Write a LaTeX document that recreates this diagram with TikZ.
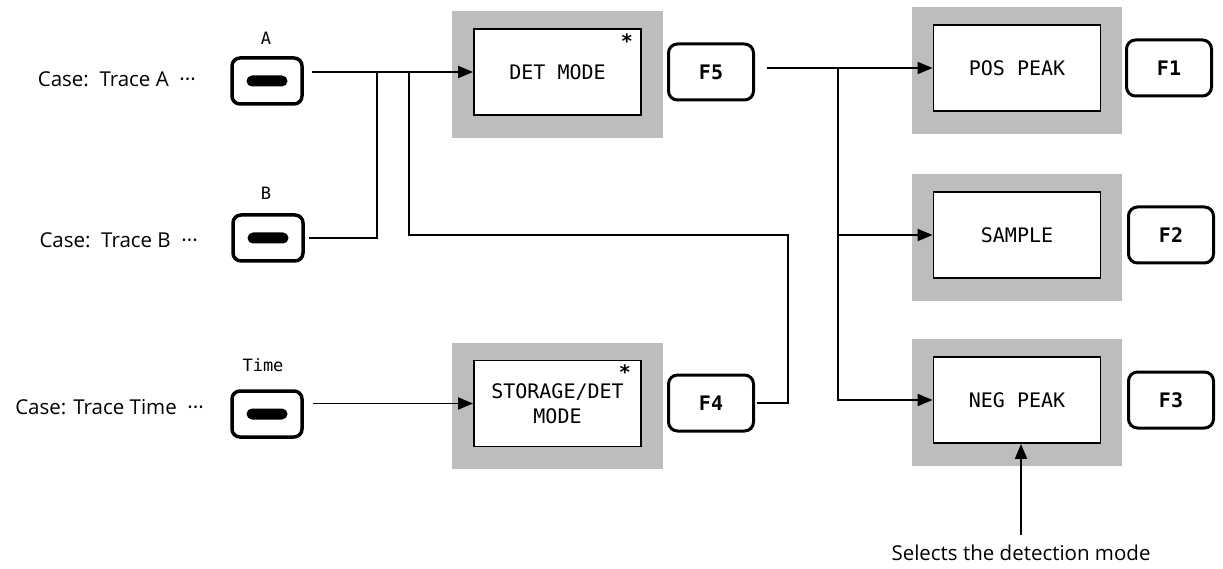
\documentclass[tikz,border=0pt]{standalone}
\usepackage{fontspec}
\setmainfont{Open Sans}
\newfontfamily\monof{DejaVu Sans Mono}
\usetikzlibrary{arrows.meta,backgrounds}
\begin{document}
\begin{tikzpicture}[x=1pt,y=-1pt,
  conn/.style={line width=1.9pt},
  arr/.style={conn,-{Triangle[length=15pt,width=12pt]}},
  modebox/.style={draw,line width=1.9pt,fill=white,minimum width=167pt,minimum height=86pt,inner sep=0pt,font=\monof\fontsize{20}{25}\selectfont,align=center},
  fkey/.style={draw,line width=3pt,rounded corners=9pt,minimum width=85pt,minimum height=56pt,inner sep=0pt,font=\monof\bfseries\fontsize{20}{24}\selectfont},
  button/.style={draw,line width=3.5pt,rounded corners=8pt,minimum width=70pt,minimum height=46pt,inner sep=0pt},
  pill/.style={fill=black,rounded corners=5.5pt,minimum width=41pt,minimum height=11pt,inner sep=0pt},
  caselabel/.style={anchor=east,font=\fontsize{20.5}{24}\selectfont,inner sep=0pt},
  keylabel/.style={font=\monof\fontsize{17}{20}\selectfont,inner sep=0pt},
  star/.style={font=\monof\bfseries\fontsize{20}{24}\selectfont,inner sep=0pt},
  shadefill/.style={fill=black!26},
]
\useasboundingbox (0,0) rectangle (1223,569);

% buttons and their labels
\node[button] (btnA) at (267,81) {};
\node[pill] (pillA) at (btnA.center) {};
\node[keylabel] (labA) at (266,38) {A};
\node[caselabel] (caseA) at (196,79) {Case:\ \ Trace A\ \ ···};

\node[button] (btnB) at (268,238) {};
\node[pill] (pillB) at (btnB.center) {};
\node[keylabel] (labB) at (266,193) {B};
\node[caselabel] (caseB) at (198,240) {Case:\ \ Trace B\ \ ···};

\node[button] (btnT) at (267,414) {};
\node[pill] (pillT) at (btnT.center) {};
\node[keylabel] (labT) at (263,365) {Time};
\node[caselabel] (caseT) at (204,407) {Case: Trace Time\ \ ···};

% mode boxes
\node[modebox] (det) at (557.5,72) {DET MODE};
\node[modebox] (st) at (557.5,403.5) {STORAGE/DET\\MODE};
\node[modebox] (pos) at (1017,68) {POS PEAK};
\node[modebox] (samp) at (1017,235) {SAMPLE};
\node[modebox] (neg) at (1017,400) {NEG PEAK};

\node[star] (astD) at ([xshift=-15pt,yshift=-13pt]det.north east) {*};
\node[star] (astS) at ([xshift=-17pt,yshift=-13pt]st.north east) {*};

\begin{scope}[on background layer]
\foreach \b in {det,st,pos,samp,neg}
  \fill[shadefill] ([xshift=-21pt,yshift=17pt]\b.north west) rectangle ([xshift=21pt,yshift=-22pt]\b.south east);
\end{scope}

% function keys
\node[fkey] (F5) at (711,72) {F5};
\node[fkey] (F4) at (711,403) {F4};
\node[fkey] (F1) at (1169,68) {F1};
\node[fkey] (F2) at (1171,235) {F2};
\node[fkey] (F3) at (1171,400) {F3};

% note
\node[font=\fontsize{20.5}{24}\selectfont,inner sep=0pt] (note) at (1021,553) {Selects the detection mode};

% junction columns
\coordinate (j1) at (377,0);
\coordinate (j2) at (409,0);
\coordinate (jr) at (788,0);
\coordinate (jb) at (0,235);
\coordinate (j3) at (838,0);

% connectors
\draw[arr,shorten <=8pt] (btnA.east |- det.west) -- (det.west);
\draw[conn,shorten >=4pt] (j1 |- det.west) |- (btnB.east);
\draw[conn,shorten <=2pt] (F4.east) -| (jr |- jb) -| (j2 |- det.west);
\draw[arr,shorten <=9pt] (btnT.east |- st.west) -- (st.west);

\draw[arr,shorten <=12pt] (F5.east |- pos.west) -- (pos.west);
\draw[arr] (j3 |- pos.west) |- (neg.west);
\draw[arr] (j3 |- samp.west) -- (samp.west);
\draw[arr,shorten <=10pt] (note.north) -- (note.north |- neg.south);
\end{tikzpicture}
\end{document}
